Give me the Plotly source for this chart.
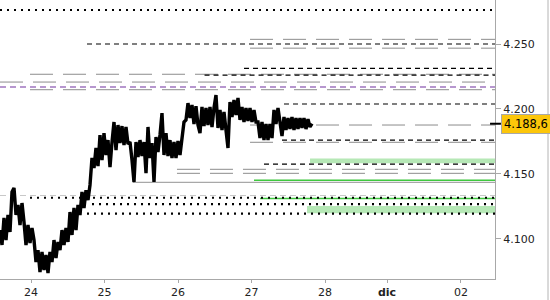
import plotly.graph_objects as go

# ---------------- data ----------------
# price series (one value every ~0.0272 day, starting at the left edge of the chart)
t_start = -0.4218
t_step = 0.02721
prices = [
    4.1067, 4.0952, 4.1160, 4.0990, 4.1183, 4.1052, 4.1360, 4.1391, 4.1183, 4.1260,
    4.1106, 4.1275, 4.1129, 4.0952, 4.1106, 4.0967, 4.1083, 4.0990, 4.0821, 4.0913,
    4.0744, 4.0898, 4.0759, 4.0875, 4.0736, 4.0898, 4.0821, 4.0990, 4.0851, 4.0975,
    4.0913, 4.1067, 4.0952, 4.1083, 4.0975, 4.1206, 4.1029, 4.1237, 4.1067, 4.1260,
    4.1183, 4.1360, 4.1237, 4.1375, 4.1298, 4.1414, 4.1622, 4.1545, 4.1699, 4.1560,
    4.1799, 4.1606, 4.1814, 4.1645, 4.1760, 4.1552, 4.1745, 4.1899, 4.1683, 4.1876,
    4.1737, 4.1868, 4.1722, 4.1861, 4.1730, 4.1745, 4.1606, 4.1437, 4.1745, 4.1630,
    4.1760, 4.1637, 4.1745, 4.1506, 4.1861, 4.1622, 4.1737, 4.1437, 4.1784, 4.1668,
    4.1799, 4.1968, 4.1645, 4.1814, 4.1637, 4.1760, 4.1622, 4.1745, 4.1622, 4.1753,
    4.1645, 4.1760, 4.1899, 4.1915, 4.2045, 4.1930, 4.2030, 4.1884, 4.2022, 4.1876,
    4.1814, 4.2015, 4.1868, 4.2007, 4.1876, 4.2015, 4.1861, 4.2007, 4.2107, 4.1853,
    4.1992, 4.1838, 4.1976, 4.1838, 4.1699, 4.2053, 4.1938, 4.2069, 4.1953, 4.2084,
    4.1915, 4.2015, 4.1899, 4.2007, 4.1907, 4.2007, 4.1899, 4.1992, 4.1899, 4.1899,
    4.1776, 4.1899, 4.1760, 4.1884, 4.1760, 4.1884, 4.1776, 4.1992, 4.1884, 4.2007,
    4.1899, 4.1791, 4.1938, 4.1838, 4.1930, 4.1845, 4.1938, 4.1838, 4.1930, 4.1845,
    4.1930, 4.1853, 4.1930, 4.1845, 4.1922, 4.1861, 4.1886,
]
last_price_label = "4.188,6"

x_ticks = [0, 1, 2, 3, 4, 4.8435, 5.850]
x_labels = ["24", "25", "26", "27", "28", "<b>dic</b>", "02"]
y_ticks = [4.100, 4.150, 4.200, 4.250]
y_labels = ["4.100", "4.150", "4.200", "4.250"]

# level lines: value and start time
dotted_levels = [4.2762, 4.1316, 4.1267, 4.1194]
dotted_starts = [-0.4218, -0.0136, 0.830, 0.762]
dashed_levels = [4.2500, 4.2313, 4.2261, 4.2038, 4.1760, 4.1575]
dashed_starts = [0.762, 2.898, 2.361, 3.442, 3.415, 3.170]
gray_levels = [4.2536, 4.2468, 4.2267, 4.2207, 4.2148, 4.1876, 4.1743, 4.1535, 4.1504]
gray_starts = [2.980, 2.980, -0.0136, -0.4218, -0.0136, 2.980, 2.980, 1.986, 1.986]
purple_levels = [4.2169]
purple_starts = [-0.4218]
graysolid_levels = [4.1435]
graysolid_starts = [1.388]
lightgray_levels = [4.1333]
lightgray_starts = [-0.4218]
green_levels = [4.1450, 4.1310]
green_starts = [3.034, 3.116]
band_low = [4.1581, 4.1196]
band_high = [4.1619, 4.1252]
band_starts = [3.796, 3.755]

# ---------------- figure ----------------
X_MIN, X_MAX = -0.4218, 6.3129
Y_MIN, Y_MAX = 4.0690, 4.2839

times = [t_start + i * t_step for i in range(len(prices))]

fig = go.Figure()
shapes = []

for lo, hi, s in zip(band_low, band_high, band_starts):
    shapes.append(dict(type="rect", xref="x", yref="y", x0=s, x1=X_MAX, y0=lo, y1=hi,
                       fillcolor="#b6e8b6", line=dict(width=0), layer="below"))


def add_lines(levels, starts, color, width, dash):
    for v, s in zip(levels, starts):
        shapes.append(dict(type="line", xref="x", yref="y", x0=s, x1=X_MAX, y0=v, y1=v,
                           line=dict(color=color, width=width, dash=dash), layer="below"))


add_lines(gray_levels, gray_starts, "#8c8c8c", 1, "23px,10px")
add_lines(graysolid_levels, graysolid_starts, "#a8a8a8", 1.2, "solid")
add_lines(lightgray_levels, lightgray_starts, "#c8c8c8", 1.2, "6px,4px")
add_lines(green_levels, green_starts, "#3fc83f", 1.5, "solid")
add_lines(purple_levels, purple_starts, "#7030a0", 1.2, "6px,4px")
add_lines(dashed_levels, dashed_starts, "#000000", 1.2, "5px,4px")
add_lines(dotted_levels, dotted_starts, "#000000", 2.2, "2px,5px")

fig.add_trace(go.Scatter(x=times, y=prices, mode="lines",
                         line=dict(color="#000000", width=3.4), hoverinfo="skip",
                         showlegend=False))

# current price marker
shapes.append(dict(type="line", xref="paper", yref="y", x0=0.99, x1=1.012,
                   y0=prices[-1], y1=prices[-1], line=dict(color="#000", width=2)))
# outer right frame
shapes.append(dict(type="line", xref="paper", yref="paper", x0=1.1071, x1=1.1071,
                   y0=-0.08, y1=1, line=dict(color="#b4b4b4", width=1)))

fig.add_annotation(xref="paper", yref="y", x=1.0121, y=prices[-1], xanchor="left",
                   yanchor="middle", text=last_price_label, showarrow=False,
                   font=dict(family="DejaVu Sans", size=11.5, color="#000"),
                   bgcolor="#fcc60a", bordercolor="#a8a8a8", borderwidth=1, borderpad=2)

fig.update_layout(
    width=550, height=300,
    margin=dict(l=0, r=55, t=0, b=21),
    paper_bgcolor="white", plot_bgcolor="white",
    shapes=shapes, showlegend=False,
    font=dict(family="DejaVu Sans", size=11, color="#222"),
    xaxis=dict(range=[X_MIN, X_MAX], tickvals=x_ticks, ticktext=x_labels,
               showgrid=False, zeroline=False, showline=True, linecolor="#a8a8a8",
               ticks="outside", ticklen=3, tickcolor="#a8a8a8",
               tickfont=dict(size=11, color="#222")),
    yaxis=dict(range=[Y_MIN, Y_MAX], side="right", tickvals=y_ticks, ticktext=y_labels,
               showgrid=False, zeroline=False, showline=True, linecolor="#a8a8a8",
               ticks="outside", ticklen=5, tickcolor="#a8a8a8",
               tickfont=dict(size=11, color="#222")),
)

fig.write_html("out.html")
